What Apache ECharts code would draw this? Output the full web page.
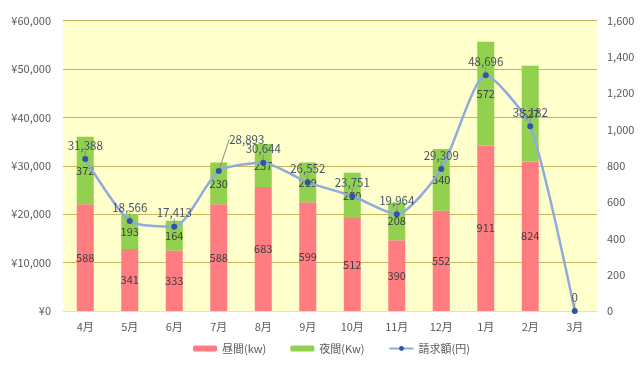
<!DOCTYPE html>
<html><head><meta charset="utf-8">
<script src="https://cdn.jsdelivr.net/npm/echarts@6/dist/echarts.min.js"></script>
<style>html,body{margin:0;padding:0;background:#fff}#c{width:640px;height:367px}</style>
</head><body><div id="c"></div>
<script>
const categories = ['4月','5月','6月','7月','8月','9月','10月','11月','12月','1月','2月','3月'];
const dayKw = [588,341,333,588,683,599,512,390,552,911,824,0];
const nightKw = [372,193,164,230,237,219,250,208,340,572,527,0];
const billYen = [31388,18566,17413,28893,30644,26552,23751,19964,29309,48696,38182,0];
const leftTicks = {min:0, max:60000, interval:10000};
const rightTicks = {min:0, max:1600, interval:200};

const FONT = '"Noto Sans CJK JP", "Noto Sans", sans-serif';
const chart = echarts.init(document.getElementById('c'));
const barLabel = {show:true, position:'inside', color:'#404040', fontSize:11, fontFamily:FONT,
  formatter: p => p.value ? String(p.value) : ''};
const fmt = v => v.toLocaleString('en-US');
chart.setOption({
  animation:false,
  textStyle:{fontFamily:FONT},
  grid:{left:63, right:43, top:20.5, bottom:56, show:true, backgroundColor:'#FFFFCC', borderWidth:0},
  legend:{bottom:8, left:188, itemWidth:24, itemHeight:6, itemGap:24,
    textStyle:{color:'#595959', fontSize:11, fontFamily:FONT},
    data:['昼間(kw)','夜間(Kw)','請求額(円)']},
  xAxis:{type:'category', data:categories,
    axisLine:{lineStyle:{color:'#E0E0D0'}}, axisTick:{show:false},
    axisLabel:{color:'#595959', fontSize:11, margin:10}},
  yAxis:[
    {type:'value', min:leftTicks.min, max:leftTicks.max, interval:leftTicks.interval, position:'left',
      axisLabel:{color:'#595959', fontSize:11, margin:12, formatter:v=>'¥'+fmt(v)},
      splitLine:{lineStyle:{color:'#C8B45A', width:1}}, axisLine:{show:false}, axisTick:{show:false}},
    {type:'value', min:rightTicks.min, max:rightTicks.max, interval:rightTicks.interval, position:'right',
      axisLabel:{color:'#595959', fontSize:11, margin:10, formatter:v=>fmt(v)},
      splitLine:{show:false}, axisLine:{show:false}, axisTick:{show:false}}
  ],
  series:[
    {name:'昼間(kw)', type:'bar', stack:'kw', yAxisIndex:1, data:dayKw, barWidth:17,
      itemStyle:{color:'#FF7C80'}, label:barLabel},
    {name:'夜間(Kw)', type:'bar', stack:'kw', yAxisIndex:1, data:nightKw, barWidth:17,
      itemStyle:{color:'#92D050'}, label:barLabel},
    {name:'請求額(円)', type:'line', yAxisIndex:0, smooth:0.22, z:5,
      data: billYen.map((v,i)=>{
        const o={value:v};
        if(i===0) o.label={offset:[2,-17]};
        if(i===11) o.label={offset:[0,-2]};
        if(i===3) o.label={offset:[0,0]};
        return o;
      }),
      symbol:'circle', symbolSize:6,
      lineStyle:{color:'#8FAADC', width:2.5},
      itemStyle:{color:'#2F55A4'},
      label:{show:true, position:'top', offset:[12,0], color:'#44546A', fontSize:11.5, fontFamily:FONT,
        formatter:p=>fmt(p.value)},
      labelLine:{show:true, lineStyle:{color:'#8C8C8C', width:1}},
      labelLayout: p => p.dataIndex===3 ? {dx:28, dy:-18} : {}
    }
  ]
});
</script></body></html>
